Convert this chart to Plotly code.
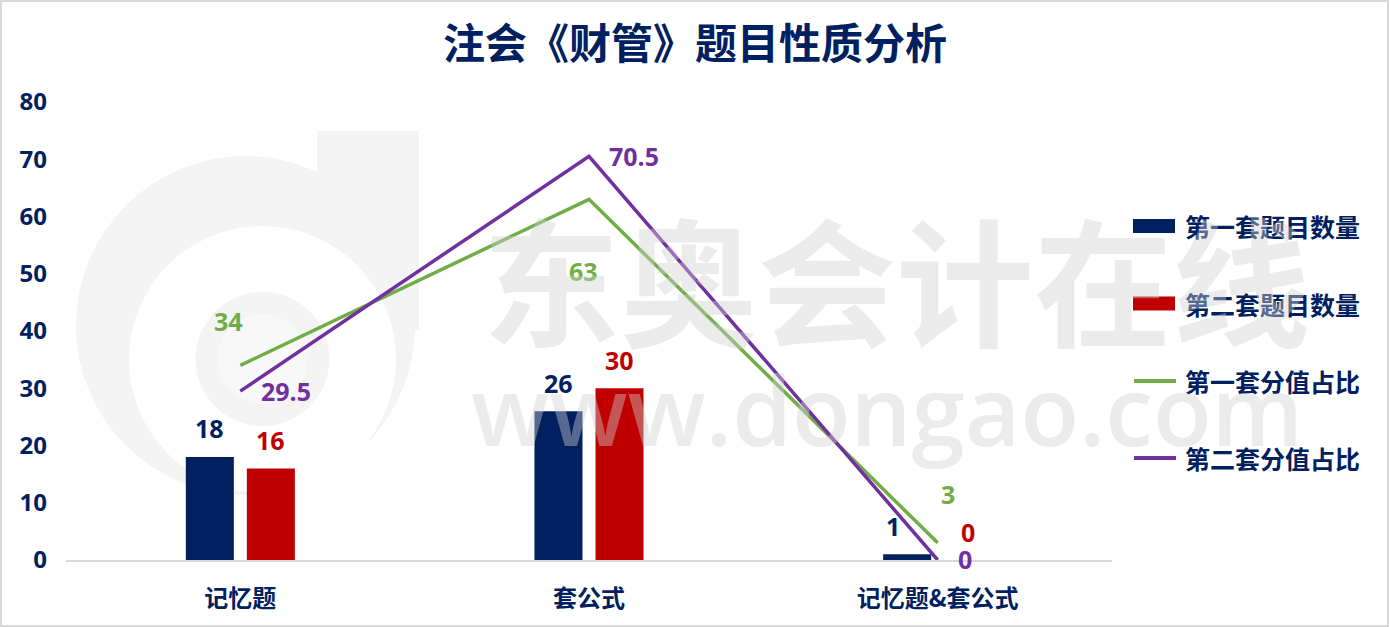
import plotly.graph_objects as go

# ---------------- data ----------------
categories = ["记忆题", "套公式", "记忆题&套公式"]
set1_count = [18, 26, 1]
set2_count = [16, 30, 0]
set1_score = [34, 63, 3]
set2_score = [29.5, 70.5, 0]
series_names = ["第一套题目数量", "第二套题目数量", "第一套分值占比", "第二套分值占比"]
chart_title = "注会《财管》题目性质分析"
y_ticks = [0, 10, 20, 30, 40, 50, 60, 70, 80]
watermark_cn = "东奥会计在线"
watermark_en = "www.dongao.com"

# ---------------- style ----------------
NAVY = "#002060"
RED = "#C00000"
GREEN = "#70AD47"
PURPLE = "#7030A0"
FONT = "Open Sans, Noto Sans CJK SC, sans-serif"
CJK = "Noto Sans CJK SC, sans-serif"

W, H = 1390, 627
PL, PR, PT, PB = 66, 1112, 102, 560


def px(x):
    return (x - PL) / (PR - PL)


def py(y):
    return (PB - y) / (PB - PT)


fig = go.Figure()

fig.add_trace(go.Bar(x=categories, y=set1_count, name=series_names[0],
                     marker=dict(color=NAVY, line=dict(width=0)), hoverinfo="x+y"))
fig.add_trace(go.Bar(x=categories, y=set2_count, name=series_names[1],
                     marker=dict(color=RED, line=dict(width=0)), hoverinfo="x+y"))
fig.add_trace(go.Scatter(x=categories, y=set1_score, name=series_names[2], mode="lines",
                         line=dict(color=GREEN, width=3.5)))
fig.add_trace(go.Scatter(x=categories, y=set2_score, name=series_names[3], mode="lines",
                         line=dict(color=PURPLE, width=3.5)))

annotations = []
shapes = []

# bar value labels
bar_off = 30.5
bar_extra_dx = [[0, 0, -14], [0, 0, 0]]
for k, (vals, col, off) in enumerate([(set1_count, NAVY, -bar_off), (set2_count, RED, bar_off)]):
    for i, (c, v) in enumerate(zip(categories, vals)):
        annotations.append(dict(x=c, y=v, text=str(v), showarrow=False, xshift=off + bar_extra_dx[k][i],
                                yshift=28.5, yanchor="middle", xanchor="center",
                                font=dict(family=FONT, size=25, color=col, weight="bold")))

# line value labels
green_off = [(-12, 44), (-6, -72), (10, 49)]
purple_off = [(46, 0), (45, 0), (27, 1)]
for vals, col, offs in [(set1_score, GREEN, green_off), (set2_score, PURPLE, purple_off)]:
    for c, v, (dx, dy) in zip(categories, vals, offs):
        annotations.append(dict(x=c, y=v, text=f"{v:g}", showarrow=False, xshift=dx, yshift=dy,
                                yanchor="middle", xanchor="center",
                                font=dict(family=FONT, size=25, color=col, weight="bold")))

# custom legend
leg_y = [226, 303.5, 381, 458]
leg_colors = [NAVY, RED, GREEN, PURPLE]
for i, (name, col, yy) in enumerate(zip(series_names, leg_colors, leg_y)):
    if i < 2:
        shapes.append(dict(type="rect", xref="paper", yref="paper", x0=px(1133), x1=px(1175),
                           y0=py(yy + 7), y1=py(yy - 7), fillcolor=col, line=dict(width=0)))
    else:
        shapes.append(dict(type="line", xref="paper", yref="paper", x0=px(1134), x1=px(1176),
                           y0=py(yy), y1=py(yy), line=dict(color=col, width=4)))
    annotations.append(dict(xref="paper", yref="paper", x=px(1183), y=py(yy), text=name,
                            showarrow=False, xanchor="left", yanchor="middle",
                            font=dict(family=CJK, size=25, color=NAVY, weight="bold")))

# logo watermark (below traces)
def circ(cx, cy, r, color):
    return dict(type="circle", xref="paper", yref="paper", layer="below",
                x0=px(cx - r), x1=px(cx + r), y0=py(cy + r), y1=py(cy - r),
                fillcolor=color, line=dict(width=0))

shapes.append(circ(245.5, 325.5, 169.5, "#f4f4f4"))
shapes.append(dict(type="rect", xref="paper", yref="paper", layer="below",
                   x0=px(317), x1=px(419), y0=py(330), y1=py(131),
                   fillcolor="#f4f4f4", line=dict(width=0)))
shapes.append(circ(262.5, 359.5, 133.5, "#ffffff"))
shapes.append(circ(262.5, 359, 67, "#f4f4f4"))
shapes.append(circ(262.5, 359, 45, "#f8f8f8"))

# outer border
shapes.append(dict(type="rect", xref="paper", yref="paper", x0=px(1), x1=px(1388),
                   y0=py(626), y1=py(1), line=dict(color="#d9d9d9", width=2),
                   fillcolor="rgba(0,0,0,0)"))

# text watermarks (on top)
WM = "rgba(207,207,207,0.42)"
annotations.append(dict(xref="paper", yref="paper", x=px(896), y=py(276), text=watermark_cn,
                        showarrow=False, xanchor="center", yanchor="middle",
                        font=dict(family=CJK, size=138, color=WM, weight="bold")))
annotations.append(dict(xref="paper", yref="paper", x=px(887), y=py(408), text=watermark_en,
                        showarrow=False, xanchor="center", yanchor="middle",
                        font=dict(family="Open Sans, sans-serif", size=96, color=WM, weight=600)))

fig.update_layout(
    width=W, height=H,
    margin=dict(l=PL, r=W - PR, t=PT, b=H - PB, pad=0),
    paper_bgcolor="white", plot_bgcolor="rgba(0,0,0,0)",
    barmode="group", bargap=0.65, bargroupgap=0.213,
    showlegend=False,
    title=dict(text=chart_title, x=0.5, xref="container", xanchor="center",
               y=1 - 44 / H, yref="container", yanchor="middle",
               font=dict(family=CJK, size=42, color=NAVY, weight="bold")),
    xaxis=dict(showgrid=False, zeroline=False, showline=True, linecolor="#d9d9d9", linewidth=2,
               ticks="", ticklabelstandoff=16,
               tickfont=dict(family=CJK, size=24, color=NAVY, weight="bold")),
    yaxis=dict(range=[0, 80], tickvals=y_ticks, showgrid=False, zeroline=False, showline=False,
               ticks="", ticklabelstandoff=18,
               tickfont=dict(family=FONT, size=24, color=NAVY, weight="bold")),
    annotations=annotations, shapes=shapes,
)

fig.write_html("out.html", config={"displayModeBar": False},
               post_script="document.body.style.margin='0';document.body.style.overflow='hidden';")
